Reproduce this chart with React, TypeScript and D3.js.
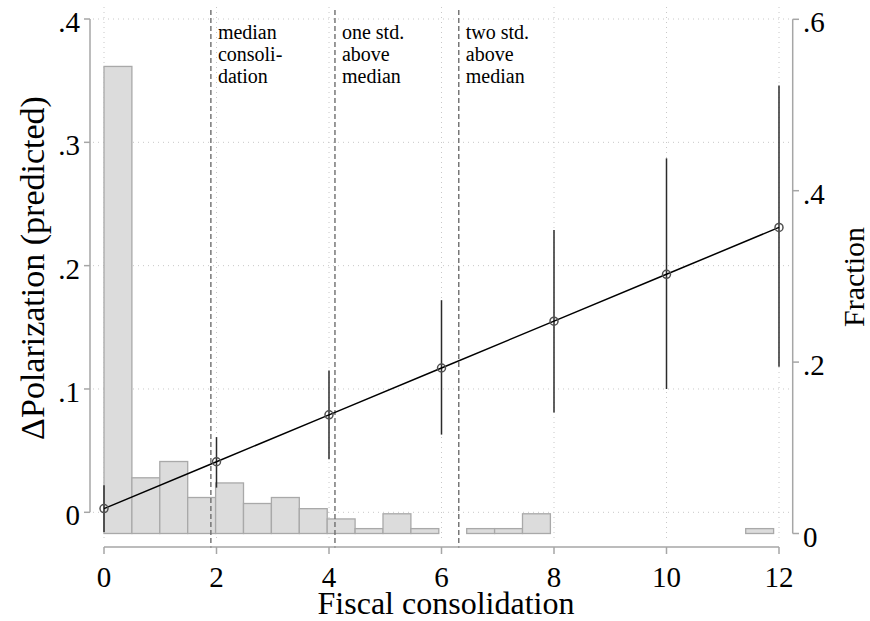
import React, { useEffect, useRef } from "react";
import * as d3 from "d3";

// predicted polarization with 95% CI at each level of consolidation
const consolidation = [0, 2, 4, 6, 8, 10, 12];
const predicted = [0.003, 0.041, 0.079, 0.117, 0.155, 0.193, 0.231];
const ciLow = [-0.016, 0.02, 0.043, 0.063, 0.081, 0.1, 0.118];
const ciHigh = [0.022, 0.061, 0.115, 0.172, 0.229, 0.287, 0.346];

// histogram of fiscal consolidation (fraction per bin)
const binWidth = 0.496;
const histFraction = [
  0.545, 0.065, 0.084, 0.042, 0.059, 0.035, 0.042, 0.029, 0.017, 0.0057, 0.023, 0.0057,
  0, 0.0057, 0.0057, 0.023, 0, 0, 0, 0, 0, 0, 0, 0.0057,
];

const xTicks = [0, 2, 4, 6, 8, 10, 12];
const leftTicks = [0, 0.1, 0.2, 0.3, 0.4];
const rightTicks = [0, 0.2, 0.4, 0.6];

const refLines = [
  { x: 1.9, label: ["median", "consoli-", "dation"] },
  { x: 4.106, label: ["one std.", "above", "median"] },
  { x: 6.307, label: ["two std.", "above", "median"] },
];

const W = 870;
const H = 621;
const font = "'Liberation Serif', 'Times New Roman', serif";

export default function App() {
  const svgRef = useRef<SVGSVGElement>(null);

  useEffect(() => {
    const svg = d3.select(svgRef.current);
    svg.selectAll("*").remove();

    const x = d3.scaleLinear().domain([0, 12]).range([104, 779]);
    const yL = d3.scaleLinear().domain([0, 0.4]).range([512.3, 19]);
    const yR = d3.scaleLinear().domain([0, 0.6]).range([533.5, 19.3]);
    const fmt = (v: number) => (v === 0 ? "0" : d3.format(".1f")(v).replace(/^0\./, "."));

    const plotTop = 7;
    const plotBottom = 540;
    const plotLeft = 93;
    const plotRight = 790;
    const tickSize = 29;

    // grid
    const grid = svg.append("g");
    grid.selectAll(".hg")
      .data(leftTicks)
      .enter().append("line")
      .attr("x1", plotLeft).attr("x2", plotRight)
      .attr("y1", (d) => yL(d)).attr("y2", (d) => yL(d))
      .attr("stroke", "#c8c8c8").attr("stroke-width", 1)
      .attr("stroke-dasharray", "1,4");
    grid.selectAll(".vg")
      .data(xTicks)
      .enter().append("line")
      .attr("x1", (d) => x(d)).attr("x2", (d) => x(d))
      .attr("y1", plotTop).attr("y2", plotBottom)
      .attr("stroke", "#c8c8c8").attr("stroke-width", 1)
      .attr("stroke-dasharray", "1,4");

    // histogram
    const bins = histFraction.map((f, i) => ({ x0: i * binWidth, x1: (i + 1) * binWidth, f })).filter((b) => b.f > 0);
    svg.append("g").selectAll("rect")
      .data(bins)
      .enter().append("rect")
      .attr("x", (d) => x(d.x0))
      .attr("width", (d) => x(d.x1) - x(d.x0))
      .attr("y", (d) => yR(d.f))
      .attr("height", (d) => yR(0) - yR(d.f))
      .attr("fill", "#dcdcdc")
      .attr("stroke", "#a9a9a9")
      .attr("stroke-width", 1.3);

    // reference lines
    const ref = svg.append("g");
    ref.selectAll("line")
      .data(refLines)
      .enter().append("line")
      .attr("x1", (d) => x(d.x)).attr("x2", (d) => x(d.x))
      .attr("y1", 10).attr("y2", 548)
      .attr("stroke", "#6e6e6e").attr("stroke-width", 1.4)
      .attr("stroke-dasharray", "5,3");
    refLines.forEach((r) => {
      const t = ref.append("text")
        .attr("x", x(r.x) + 7)
        .attr("y", 38.5)
        .attr("font-family", font)
        .attr("font-size", 20)
        .attr("fill", "#000");
      r.label.forEach((s, i) => {
        t.append("tspan").attr("x", x(r.x) + 7).attr("dy", i === 0 ? 0 : 22.3).text(s);
      });
    });

    // CI spikes
    const pts = consolidation.map((c, i) => ({ c, p: predicted[i], lo: ciLow[i], hi: ciHigh[i] }));
    svg.append("g").selectAll("line")
      .data(pts)
      .enter().append("line")
      .attr("x1", (d) => x(d.c)).attr("x2", (d) => x(d.c))
      .attr("y1", (d) => yL(d.lo)).attr("y2", (d) => yL(d.hi))
      .attr("stroke", "#2b2b2b").attr("stroke-width", 1.5);

    // prediction line
    const line = d3.line<{ c: number; p: number }>()
      .x((d) => x(d.c))
      .y((d) => yL(d.p));
    svg.append("path")
      .datum(pts)
      .attr("d", line)
      .attr("fill", "none")
      .attr("stroke", "#000")
      .attr("stroke-width", 1.5);
    svg.append("g").selectAll("circle")
      .data(pts)
      .enter().append("circle")
      .attr("cx", (d) => x(d.c))
      .attr("cy", (d) => yL(d.p))
      .attr("r", 4)
      .attr("fill", "none")
      .attr("stroke", "#505050")
      .attr("stroke-width", 1.5);

    const axisColor = "#a6a6a6";

    // x axis
    const xa = svg.append("g");
    xa.append("line")
      .attr("x1", x(0)).attr("x2", x(12))
      .attr("y1", 547).attr("y2", 547)
      .attr("stroke", axisColor).attr("stroke-width", 1.5);
    xa.selectAll(".t")
      .data(xTicks)
      .enter().append("line")
      .attr("x1", (d) => x(d)).attr("x2", (d) => x(d))
      .attr("y1", 547).attr("y2", 554)
      .attr("stroke", axisColor).attr("stroke-width", 1.5);
    xa.selectAll("text")
      .data(xTicks)
      .enter().append("text")
      .attr("x", (d) => x(d))
      .attr("y", 587)
      .attr("text-anchor", "middle")
      .attr("font-family", font)
      .attr("font-size", tickSize)
      .text((d) => String(d));
    svg.append("text")
      .attr("x", 446).attr("y", 614)
      .attr("text-anchor", "middle")
      .attr("font-family", font)
      .attr("font-size", 32)
      .text("Fiscal consolidation");

    // left axis
    const la = svg.append("g");
    la.append("line")
      .attr("x1", 90).attr("x2", 90)
      .attr("y1", yL(0.4)).attr("y2", yL(0))
      .attr("stroke", axisColor).attr("stroke-width", 1.5);
    la.selectAll(".t")
      .data(leftTicks)
      .enter().append("line")
      .attr("x1", 84).attr("x2", 90)
      .attr("y1", (d) => yL(d)).attr("y2", (d) => yL(d))
      .attr("stroke", axisColor).attr("stroke-width", 1.5);
    la.selectAll("text")
      .data(leftTicks)
      .enter().append("text")
      .attr("x", 80)
      .attr("y", (d) => yL(d) + 13)
      .attr("text-anchor", "end")
      .attr("font-family", font)
      .attr("font-size", tickSize)
      .text((d) => fmt(d));
    svg.append("text")
      .attr("transform", `translate(44, 268) rotate(-90)`)
      .attr("text-anchor", "middle")
      .attr("font-family", font)
      .attr("font-size", 34)
      .text("ΔPolarization (predicted)");

    // right axis
    const ra = svg.append("g");
    ra.append("line")
      .attr("x1", 792.7).attr("x2", 792.7)
      .attr("y1", yR(0.6)).attr("y2", yR(0))
      .attr("stroke", axisColor).attr("stroke-width", 1.5);
    ra.selectAll(".t")
      .data(rightTicks)
      .enter().append("line")
      .attr("x1", 792.7).attr("x2", 799)
      .attr("y1", (d) => yR(d)).attr("y2", (d) => yR(d))
      .attr("stroke", axisColor).attr("stroke-width", 1.5);
    ra.selectAll("text")
      .data(rightTicks)
      .enter().append("text")
      .attr("x", 803)
      .attr("y", (d) => yR(d) + 13)
      .attr("text-anchor", "start")
      .attr("font-family", font)
      .attr("font-size", tickSize)
      .text((d) => fmt(d));
    svg.append("text")
      .attr("transform", `translate(864, 277) rotate(-90)`)
      .attr("text-anchor", "middle")
      .attr("font-family", font)
      .attr("font-size", 30)
      .text("Fraction");
  }, []);

  return (
    <svg
      ref={svgRef}
      width={W}
      height={H}
      style={{ position: "absolute", left: 0, top: 0, background: "#fff" }}
    />
  );
}
